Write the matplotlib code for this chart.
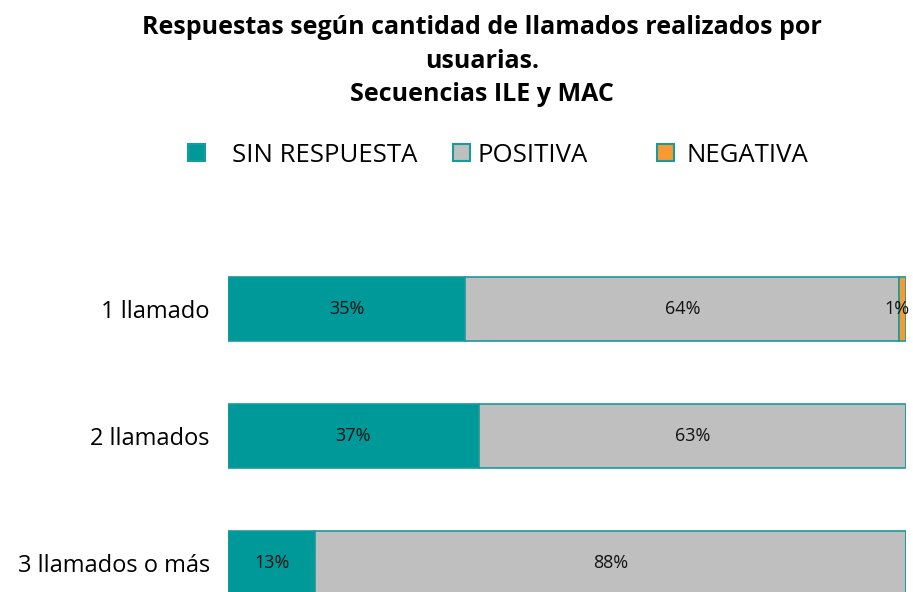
import numpy as np
import matplotlib.pyplot as plt
from matplotlib.patches import Patch

# datos del grafico
categorias = ['1 llamado', '2 llamados', '3 llamados o más']
series = ['SIN RESPUESTA', 'POSITIVA', 'NEGATIVA']
sin_respuesta = [35, 37, 13]
positiva = [64, 63, 88]
negativa = [1, 0, 0]

colores = ['#009999', '#BFBFBF', '#F79A34']
borde = '#1A9A9A'

plt.rcParams['font.family'] = ['Open Sans', 'DejaVu Sans']

valores = np.array([sin_respuesta, positiva, negativa], dtype=float)
shares = valores / valores.sum(axis=0) * 100

fig = plt.figure(figsize=(9.13, 5.92), dpi=100)
ax = fig.add_axes([228 / 913, 0, (906 - 228) / 913, (592 - 250) / 592])

y = np.arange(len(categorias))
left = np.zeros(len(categorias))
for i, nombre in enumerate(series):
    bars = ax.barh(y, shares[i], left=left, height=0.51, color=colores[i],
                   edgecolor=borde, linewidth=1.2, label=nombre)
    for j, b in enumerate(bars):
        if valores[i, j] > 0:
            xc = min(left[j] + shares[i, j] / 2, 98.6)
            ax.text(xc, y[j], f'{valores[i, j]:.0f}%',
                    ha='center', va='center', fontsize=13, color='#111111')
    left += shares[i]

ax.set_xlim(0, 100)
ax.set_ylim(2.228, -0.465)
ax.set_yticks(y)
ax.set_yticklabels(categorias, fontsize=17)
ax.tick_params(axis='y', length=0, pad=13)
ax.set_xticks([])
for s in ax.spines.values():
    s.set_visible(False)

fig.text(0.528, 0.974, 'Respuestas según cantidad de llamados realizados por\nusuarias.\nSecuencias ILE y MAC',
         ha='center', va='top', fontsize=18, fontweight='bold', linespacing=1.45)

# leyenda: tres entradas colocadas por separado como en el original
pos_leyenda = [188 / 913, 453 / 913, 657 / 913]
gaps = [1.05, 0.3, 0.5]
for i, nombre in enumerate(series):
    h = Patch(facecolor=colores[i], edgecolor=borde, linewidth=1.5)
    fig.legend([h], [nombre], loc='center left', bbox_to_anchor=(pos_leyenda[i], 0.738),
               frameon=False, fontsize=18.5, handlelength=0.65, handleheight=0.65,
               handletextpad=gaps[i], borderpad=0, borderaxespad=0)

fig.savefig('out.png', dpi=100)
